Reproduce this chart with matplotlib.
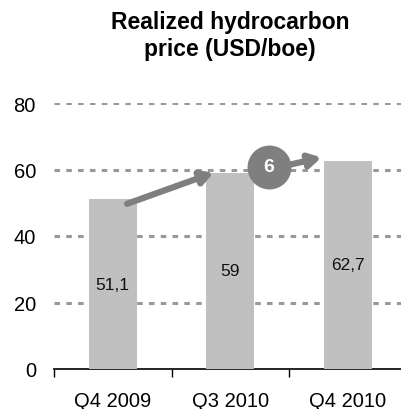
import matplotlib.pyplot as plt
import numpy as np

plt.rcParams['font.family'] = ['Liberation Sans', 'DejaVu Sans']
plt.rcParams['lines.scale_dashes'] = False

categories = ['Q4 2009', 'Q3 2010', 'Q4 2010']
prices = [51.1, 59, 62.7]
price_labels = ['51,1', '59', '62,7']
delta_label = '6'

fig = plt.figure(figsize=(4.01, 4.10), dpi=100)
ax = fig.add_axes([54 / 401, 40 / 410, 347 / 401, 266 / 410])

x = np.arange(len(categories))
ax.bar(x, prices, width=0.41, color='#c0c0c0', zorder=3)
for xi, v, lab in zip(x, prices, price_labels):
    ax.text(xi, v / 2, lab, ha='center', va='center', fontsize=12.5, color='#111111', zorder=4)

for yv in [20, 40, 60, 80]:
    ax.axhline(yv, color='#999999', lw=2.2, dashes=(4, 4.5), zorder=1)

ax.set_xlim(-0.5, -0.5 + 347 / 117.5)
ax.set_ylim(0, 80)
ax.set_yticks([0, 20, 40, 60, 80])
ax.tick_params(axis='y', length=0, labelsize=14.5, pad=13)
ax.set_xticks(x)
ax.set_xticklabels(categories)
ax.set_xticks([-0.5, 0.5, 1.5], minor=True)
ax.tick_params(axis='x', which='major', length=0, labelsize=14.5, pad=16)
ax.tick_params(axis='x', which='minor', length=6, width=1, color='black')
for s in ['left', 'right', 'top']:
    ax.spines[s].set_visible(False)
ax.spines['bottom'].set_linewidth(1.2)

# growth arrows
ax.annotate('', xy=(0.88, 59.3), xytext=(0.1, 49.4),
            arrowprops=dict(arrowstyle='-|>,head_length=0.7,head_width=0.4', color='#7f7f7f', lw=4.5),
            zorder=5, annotation_clip=False)
ax.annotate('', xy=(1.8, 63.8), xytext=(1.45, 61.0),
            arrowprops=dict(arrowstyle='-|>,head_length=0.7,head_width=0.4', color='#7f7f7f', lw=4.5),
            zorder=5, annotation_clip=False)
ax.scatter([1.33], [60.8], s=1000, color='#7f7f7f', zorder=6, clip_on=False, linewidths=0)
ax.text(1.33, 60.8, delta_label, ha='center', va='center', fontsize=14, fontweight='bold',
        color='white', zorder=7)

fig.text(230 / 401, 1 - 36 / 410, 'Realized hydrocarbon\nprice (USD/boe)', ha='center', va='center',
         fontsize=16.5, fontweight='bold', linespacing=1.2)

fig.savefig('out.png', dpi=100)
